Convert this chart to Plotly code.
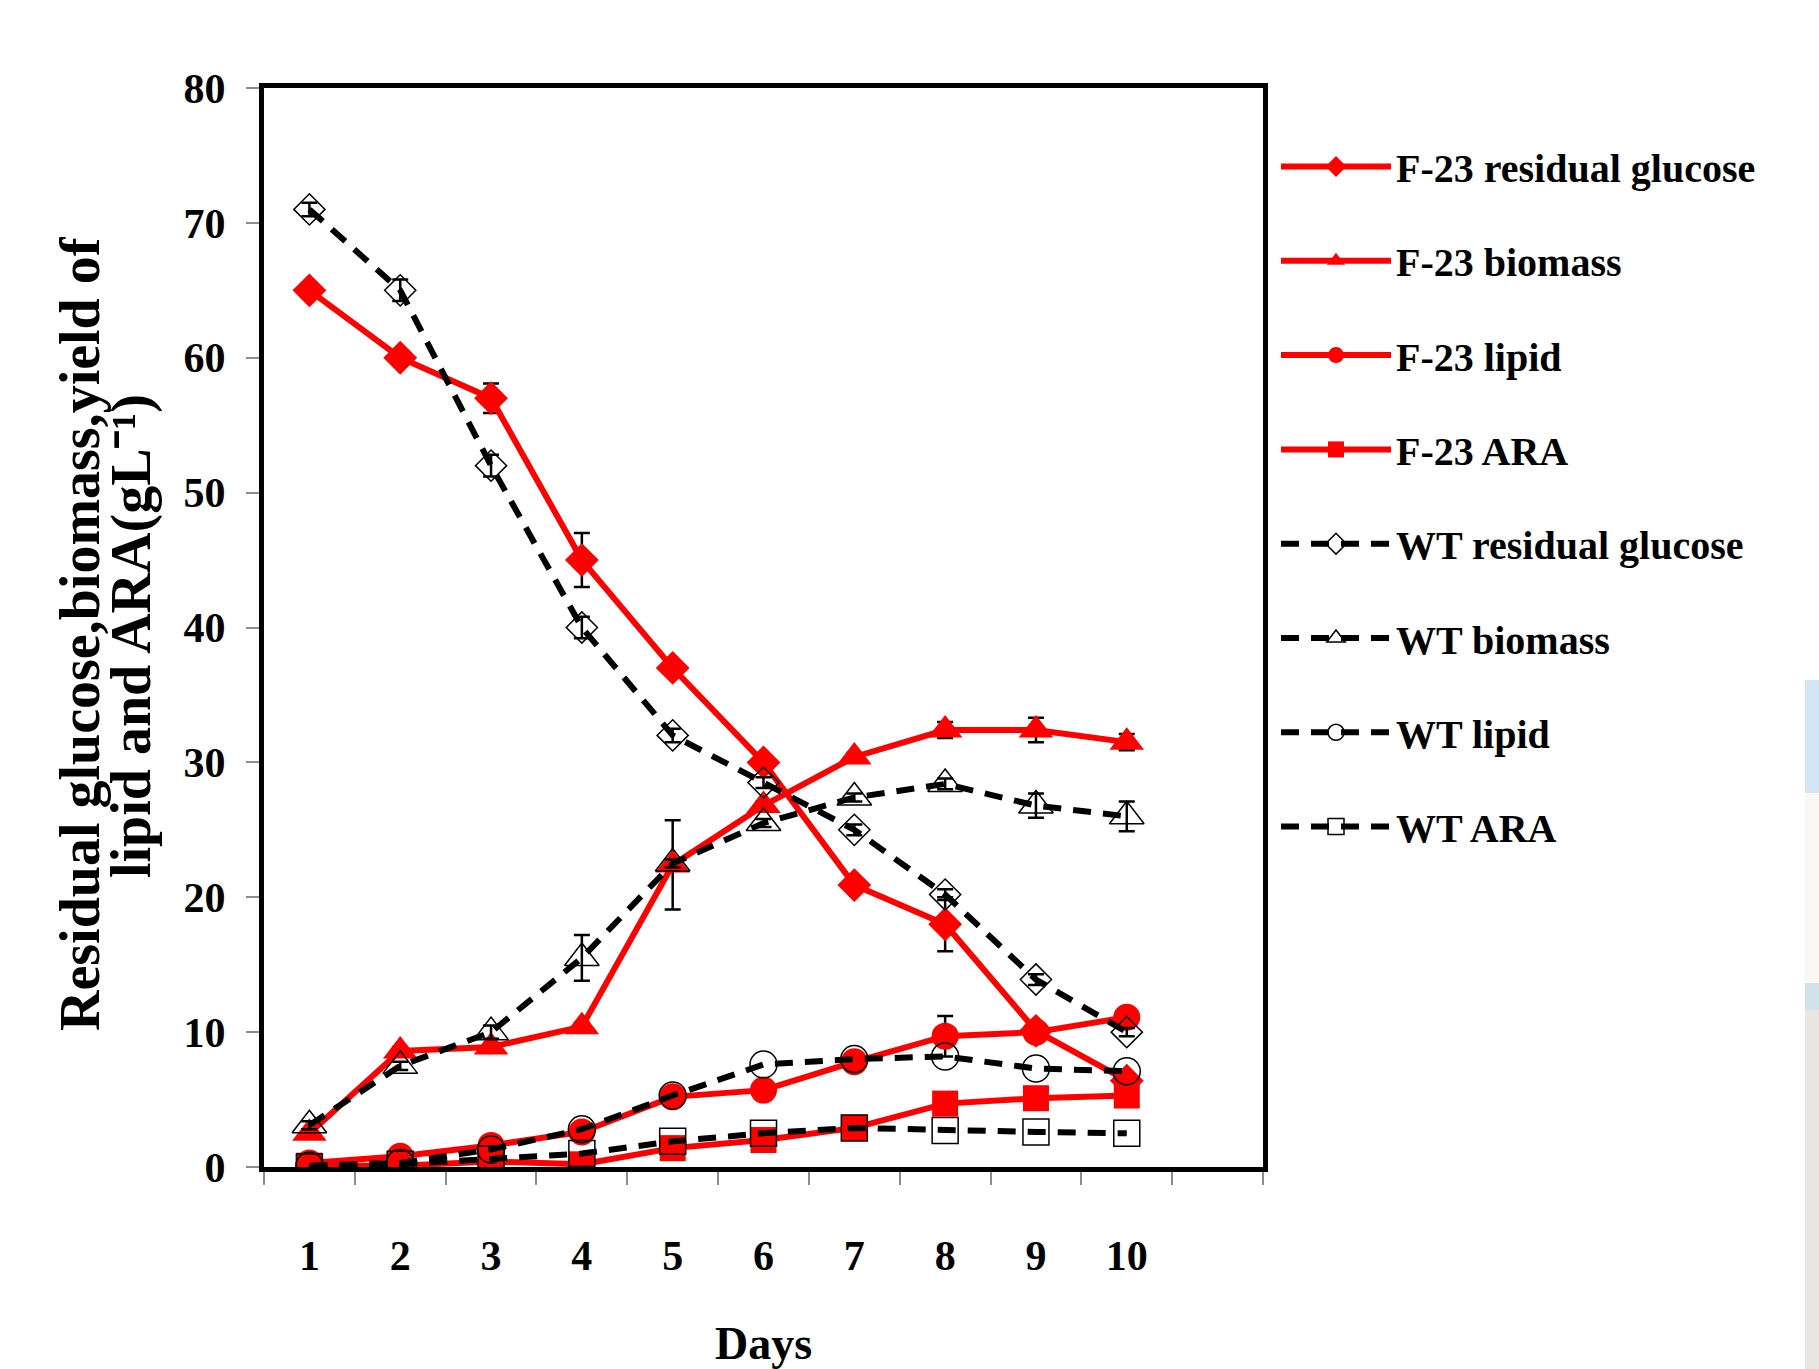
import plotly.graph_objects as go

# ---------------- data ----------------
days = [1, 2, 3, 4, 5, 6, 7, 8, 9, 10]
day_labels = ["1", "2", "3", "4", "5", "6", "7", "8", "9", "10"]
y_ticks = [0, 10, 20, 30, 40, 50, 60, 70, 80]

f23_glucose = [65.0, 60.0, 57.0, 45.0, 37.0, 30.0, 20.9, 18.0, 10.1, 6.4]
f23_glucose_err = [0.3, 0.3, 1.1, 2.0, 0.3, 0.4, 0.4, 2.0, 0.3, 0.3]
f23_biomass = [2.5, 8.6, 8.9, 10.4, 22.4, 26.8, 30.4, 32.4, 32.4, 31.5]
f23_biomass_err = [0.3, 0.3, 0.3, 0.3, 3.3, 0.3, 0.3, 0.6, 0.9, 0.6]
f23_lipid = [0.3, 0.8, 1.6, 2.6, 5.2, 5.7, 7.8, 9.7, 10.0, 11.1]
f23_lipid_err = [0.2, 0.2, 0.2, 0.2, 0.2, 0.2, 0.2, 1.5, 0.2, 0.2]
f23_ara = [0.1, 0.1, 0.4, 0.2, 1.4, 2.0, 2.9, 4.7, 5.1, 5.3]

wt_glucose = [71.0, 65.0, 52.0, 40.0, 32.0, 28.5, 25.0, 20.2, 13.9, 10.0]
wt_glucose_err = [0.5, 0.8, 0.8, 0.8, 0.5, 0.4, 0.4, 0.4, 0.4, 0.3]
wt_biomass = [3.1, 7.5, 10.0, 15.5, 22.5, 25.5, 27.4, 28.4, 26.8, 26.0]
wt_biomass_err = [0.3, 0.3, 0.5, 1.7, 0.3, 0.3, 0.3, 0.4, 0.9, 1.1]
wt_lipid = [0.1, 0.3, 1.3, 2.8, 5.3, 7.6, 8.0, 8.2, 7.3, 7.1]
wt_ara = [0.0, 0.2, 0.6, 1.0, 1.9, 2.5, 2.9, 2.7, 2.6, 2.5]

# ---------------- styling ----------------
W, H = 1819, 1369
L, R, T, B = 264, 1263, 88, 1167
SERIF = "Liberation Serif, Times New Roman, serif"
RED = "#ff0000"
DASH = "18px,12px"

fig = go.Figure()


def err(arr):
    return dict(type="data", array=arr, visible=True, color="black",
                thickness=2.5, width=8)


f23 = [
    ("F-23 residual glucose", f23_glucose, f23_glucose_err, "diamond", 26),
    ("F-23 biomass", f23_biomass, f23_biomass_err, "triangle-up", 30),
    ("F-23 lipid", f23_lipid, f23_lipid_err, "circle", 27),
    ("F-23 ARA", f23_ara, None, "square", 26),
]
wt = [
    ("WT residual glucose", wt_glucose, wt_glucose_err, "diamond-open", 24),
    ("WT biomass", wt_biomass, wt_biomass_err, "triangle-up-open", 30),
    ("WT lipid", wt_lipid, None, "circle-open", 27),
    ("WT ARA", wt_ara, None, "square-open", 26),
]

for i, (name, ys, e, sym, sz) in enumerate(f23):
    fig.add_trace(go.Scatter(
        x=days, y=ys, name=name, mode="lines+markers",
        line=dict(color=RED, width=6),
        marker=dict(symbol=sym, size=sz, color=RED, line=dict(width=0)),
        error_y=err(e) if e else None,
        legendgroup="g%d" % i,
    ))

for i, (name, ys, e, sym, sz) in enumerate(wt):
    fig.add_trace(go.Scatter(
        x=days, y=ys, name=name, mode="lines+markers",
        line=dict(color="black", width=6, dash=DASH),
        marker=dict(symbol=sym, size=sz, color="black", line=dict(width=1.5)),
        error_y=err(e) if e else None,
        legendgroup="h%d" % i,
    ))

# faint slide-background strip at the far right edge
px = lambda v: (v - L) / (R - L)
py = lambda v: (B - v) / (B - T)
strip = [(680, 793, "#d4e6f3"), (793, 983, "#fbf7f1"),
         (983, 1010, "#d3e3eb"), (1010, 1369, "#e7e6e0")]
shapes = [dict(type="rect", xref="paper", yref="paper", x0=px(1805), x1=px(1819),
               y0=py(b), y1=py(t), fillcolor=c, line=dict(width=0), layer="below")
          for t, b, c in strip]

fig.update_layout(
    width=W, height=H,
    margin=dict(l=L, r=W - R, t=T, b=H - B, autoexpand=False),
    paper_bgcolor="white", plot_bgcolor="white",
    font=dict(family=SERIF, color="black"),
    showlegend=True,
    legend=dict(
        xref="container", yref="container",
        x=1276 / W, y=1 - 134 / H, xanchor="left", yanchor="top",
        font=dict(family=SERIF, size=40, weight="bold", color="black"),
        itemwidth=110, tracegroupgap=39.3, maxheight=1300,
        bgcolor="rgba(0,0,0,0)", borderwidth=0,
    ),
    xaxis=dict(
        range=[0.5, 11.5], tickmode="array", tickvals=days, ticktext=day_labels,
        ticks="", showgrid=False, zeroline=False,
        showline=True, linecolor="black", linewidth=5, mirror=True,
        tickfont=dict(family=SERIF, size=42, weight="bold"),
        ticklabelstandoff=48,
        minor=dict(tickmode="array", tickvals=[d - 0.5 for d in days] + [10.5, 11.5],
                   ticks="outside", ticklen=13, tickwidth=2, tickcolor="#8c8c8c",
                   showgrid=False),
        title=dict(text="Days", font=dict(family=SERIF, size=46, weight="bold"),
                   standoff=66),
    ),
    yaxis=dict(
        range=[0, 80], tickmode="array", tickvals=y_ticks,
        ticks="outside", ticklen=13, tickwidth=2, tickcolor="#8c8c8c",
        showgrid=False, zeroline=False,
        showline=True, linecolor="black", linewidth=5, mirror=True,
        tickfont=dict(family=SERIF, size=42, weight="bold"),
        ticklabelstandoff=12,
    ),
    shapes=shapes,
    annotations=[
        dict(text="Residual glucose,biomass,yield of", xref="paper", yref="paper",
             x=px(80), y=py(634), textangle=-90,
             showarrow=False, xanchor="center", yanchor="middle",
             font=dict(family=SERIF, size=56, weight="bold", color="black")),
        dict(text="lipid and ARA(gL\u207b\u00b9)", xref="paper", yref="paper",
             x=px(131), y=py(636), textangle=-90,
             showarrow=False, xanchor="center", yanchor="middle",
             font=dict(family=SERIF, size=56, weight="bold", color="black")),
    ],
)

fig.write_html("out.html", config={"displayModeBar": False},
               post_script="document.body.style.margin='0';")
